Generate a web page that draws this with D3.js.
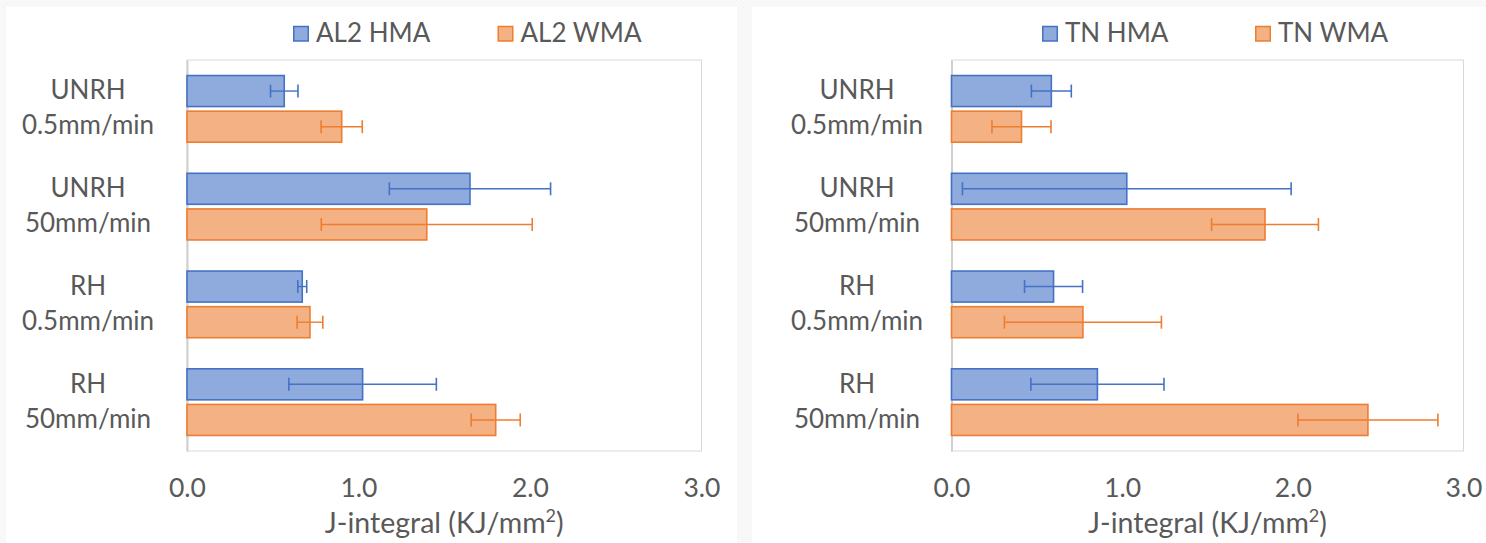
<!DOCTYPE html>
<html>
<head>
<meta charset="utf-8">
<script src="https://cdn.jsdelivr.net/npm/d3@7"></script>
<style>
  html, body { margin: 0; padding: 0; background: #f8f8f8; }
  svg { display: block; }
  text { font-family: Lato, "Open Sans", sans-serif; fill: #595959; }
</style>
</head>
<body>
<svg id="chart" width="1486" height="543"></svg>
<script>
// Test conditions (shared by both panels)
const categories = ["UNRH|0.5mm/min", "UNRH|50mm/min", "RH|0.5mm/min", "RH|50mm/min"];
const xTicks = [0, 1, 2, 3];
const xTitle = "J-integral (KJ/mm";

// AL2 mixtures: mean J-integral and standard deviation
const al2Names = ["AL2 HMA", "AL2 WMA"];
const al2Hma = [0.567, 1.650, 0.672, 1.024];
const al2HmaErr = [0.080, 0.470, 0.026, 0.430];
const al2Wma = [0.902, 1.398, 0.717, 1.800];
const al2WmaErr = [0.120, 0.615, 0.075, 0.143];

// TN mixtures: mean J-integral and standard deviation
const tnNames = ["TN HMA", "TN WMA"];
const tnHma = [0.585, 1.027, 0.598, 0.855];
const tnHmaErr = [0.117, 0.963, 0.170, 0.390];
const tnWma = [0.410, 1.837, 0.770, 2.440];
const tnWmaErr = [0.173, 0.313, 0.460, 0.410];

const fills = ["#8faadc", "#f4b183"];
const strokes = ["#4472c4", "#ed7d31"];

const svg = d3.select("#chart");

// faint dotted backdrop behind the two chart cards
const defs = svg.append("defs");
const pat = defs.append("pattern").attr("id", "dots")
  .attr("width", 4).attr("height", 4).attr("patternUnits", "userSpaceOnUse");
pat.append("rect").attr("width", 4).attr("height", 4).attr("fill", "#f9f9f9");
pat.append("rect").attr("x", 1).attr("y", 1).attr("width", 1).attr("height", 1).attr("fill", "#efefef");
pat.append("rect").attr("x", 3).attr("y", 3).attr("width", 1).attr("height", 1).attr("fill", "#efefef");
svg.append("rect").attr("width", 1486).attr("height", 543).attr("fill", "url(#dots)");

function drawPanel(opt) {
  const { left, right, cardX, cardW, labelX, legend, names, values, errors } = opt;
  const top = 60, bottom = 451;

  svg.append("rect").attr("x", cardX).attr("y", 7).attr("width", cardW).attr("height", 543)
    .attr("fill", "#ffffff");

  const g = svg.append("g");

  const x = d3.scaleLinear().domain([0, 3]).range([left, right]);
  const y = d3.scaleBand().domain(categories).range([top, bottom]).paddingInner(0).paddingOuter(0);
  const bw = y.bandwidth();
  const groupH = bw * 0.682;
  const inner = d3.scaleBand().domain([0, 1])
    .range([(bw - groupH) / 2, (bw + groupH) / 2]).paddingInner(0.13).paddingOuter(0);

  // plot-area frame
  g.append("rect").attr("x", left).attr("y", top).attr("width", right - left).attr("height", bottom - top)
    .attr("fill", "none").attr("stroke", "#d9d9d9").attr("stroke-width", 1);

  // category axis (two-line labels)
  const yAxis = g.append("g").attr("transform", `translate(${left},0)`)
    .call(d3.axisLeft(y).tickSize(0).tickPadding(0));
  yAxis.select(".domain").attr("stroke", "#d0d0d0").attr("stroke-width", 2);
  yAxis.selectAll(".tick text").each(function (d) {
    const t = d3.select(this);
    const parts = d.split("|");
    t.text(null).attr("x", labelX - left).attr("dy", null).attr("text-anchor", "middle")
      .attr("font-size", 26).attr("fill", "#595959").attr("font-family", "Lato, 'Open Sans', sans-serif");
    t.append("tspan").attr("x", labelX - left).attr("y", -9.5).text(parts[0]);
    t.append("tspan").attr("x", labelX - left).attr("y", 25.5).text(parts[1]);
  });

  // value axis
  const xAxis = g.append("g").attr("transform", `translate(0,${bottom})`)
    .call(d3.axisBottom(x).tickValues(xTicks).tickFormat(d3.format(".1f")).tickSize(0).tickPadding(27));
  xAxis.select(".domain").remove();
  xAxis.selectAll(".tick text").attr("font-size", 26.5).attr("fill", "#595959")
    .attr("font-family", "Lato, 'Open Sans', sans-serif");

  const title = g.append("text").attr("x", (left + right) / 2).attr("y", 533)
    .attr("text-anchor", "middle").attr("font-size", 28.5);
  title.append("tspan").text(xTitle);
  title.append("tspan").attr("dy", -11).attr("font-size", 18).text("2");
  title.append("tspan").attr("dy", 11).text(")");

  // bars + error bars
  values.forEach((vals, s) => {
    const sg = g.append("g");
    sg.selectAll("rect.bar").data(vals).join("rect").attr("class", "bar")
      .attr("x", x(0))
      .attr("y", (d, i) => y(categories[i]) + inner(s))
      .attr("width", d => x(d) - x(0))
      .attr("height", inner.bandwidth())
      .attr("fill", fills[s]).attr("stroke", strokes[s]).attr("stroke-width", 1.6);

    const errs = errors[s];
    const eg = sg.selectAll("g.err").data(vals).join("g").attr("class", "err")
      .attr("transform", (d, i) => `translate(0,${y(categories[i]) + inner(s) + inner.bandwidth() / 2})`);
    eg.append("line")
      .attr("x1", (d, i) => x(d - errs[i])).attr("x2", (d, i) => x(d + errs[i]))
      .attr("stroke", strokes[s]).attr("stroke-width", 1.4);
    eg.append("line")
      .attr("x1", (d, i) => x(d - errs[i])).attr("x2", (d, i) => x(d - errs[i]))
      .attr("y1", -6.5).attr("y2", 6.5).attr("stroke", strokes[s]).attr("stroke-width", 1.6);
    eg.append("line")
      .attr("x1", (d, i) => x(d + errs[i])).attr("x2", (d, i) => x(d + errs[i]))
      .attr("y1", -6.5).attr("y2", 6.5).attr("stroke", strokes[s]).attr("stroke-width", 1.6);
  });

  // legend
  names.forEach((n, s) => {
    const lg = g.append("g").attr("transform", `translate(${legend[s]},0)`);
    lg.append("rect").attr("x", 0.75).attr("y", 26.5).attr("width", 14.5).attr("height", 14.5)
      .attr("fill", fills[s]).attr("stroke", strokes[s]).attr("stroke-width", 1.5);
    lg.append("text").attr("x", 23).attr("y", 41.7).attr("font-size", 26).text(n);
  });
}

drawPanel({
  left: 187, right: 701.5, cardX: 6, cardW: 731, labelX: 88,
  legend: [293, 497.5], names: al2Names,
  values: [al2Hma, al2Wma], errors: [al2HmaErr, al2WmaErr]
});

drawPanel({
  left: 951.5, right: 1463.5, cardX: 752, cardW: 734, labelX: 857,
  legend: [1042, 1255], names: tnNames,
  values: [tnHma, tnWma], errors: [tnHmaErr, tnWmaErr]
});
</script>
</body>
</html>
